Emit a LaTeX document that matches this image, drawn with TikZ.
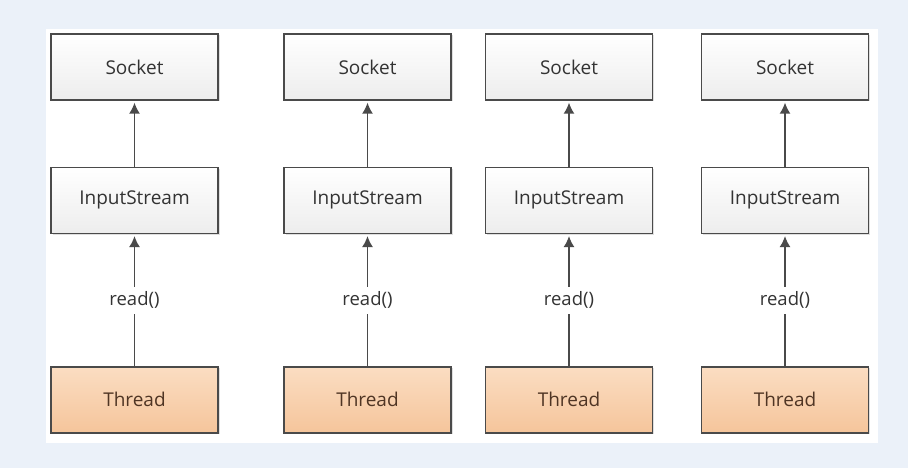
\documentclass[tikz,border=0pt]{standalone}
\usepackage{fontspec}
\setmainfont{Open Sans}
\usetikzlibrary{arrows.meta,positioning,shadows}
\definecolor{pagebg}{HTML}{EBF1F9}
\definecolor{boxline}{HTML}{4A4A4A}
\definecolor{boxgray}{HTML}{EDEDED}
\definecolor{txtgray}{HTML}{333333}
\definecolor{threadtop}{HTML}{FBDDC2}
\definecolor{threadbot}{HTML}{F5C59B}
\definecolor{threadtxt}{HTML}{4F3524}
\tikzset{>={Latex[length=11pt,width=11pt]}}
\tikzset{
    plainbox/.style={draw=boxline, line width=1.4pt, minimum width=167pt, minimum height=66pt,
        top color=white, bottom color=boxgray, text=txtgray, font=\fontsize{19}{22}\selectfont,
        drop shadow={shadow xshift=1.5pt, shadow yshift=-1.5pt, opacity=0.25, fill=gray}},
    threadbox/.style={plainbox, top color=threadtop, bottom color=threadbot, text=threadtxt},
    call/.style={->, line width=1.4pt, draw=boxline, shorten >=2pt},
    calllabel/.style={fill=white, text=txtgray, font=\fontsize{18.5}{22}\selectfont, inner xsep=1pt, inner ysep=5pt}
}

\begin{document}
\begin{tikzpicture}[x=1pt,y=-1pt]
    \fill[pagebg] (0,0) rectangle (908,468);
    \useasboundingbox (0,0) rectangle (908,468);
    \fill[white] (46,29) rectangle (878,443);
    % one column per thread
    \foreach \i/\cx in {1/134.5,2/367.5,3/569,4/785}{
        \node[plainbox]  (sock\i) at (\cx,67) {Socket};
        \node[plainbox,  below=66pt of sock\i] (in\i)  {InputStream};
        \node[threadbox, below=132pt of in\i]  (thr\i) {Thread};
        \draw[call] (in\i) -- (sock\i);
        \draw[call] (thr\i) -- node[calllabel] (read\i) {read()} (in\i);
    }
\end{tikzpicture}
\end{document}
